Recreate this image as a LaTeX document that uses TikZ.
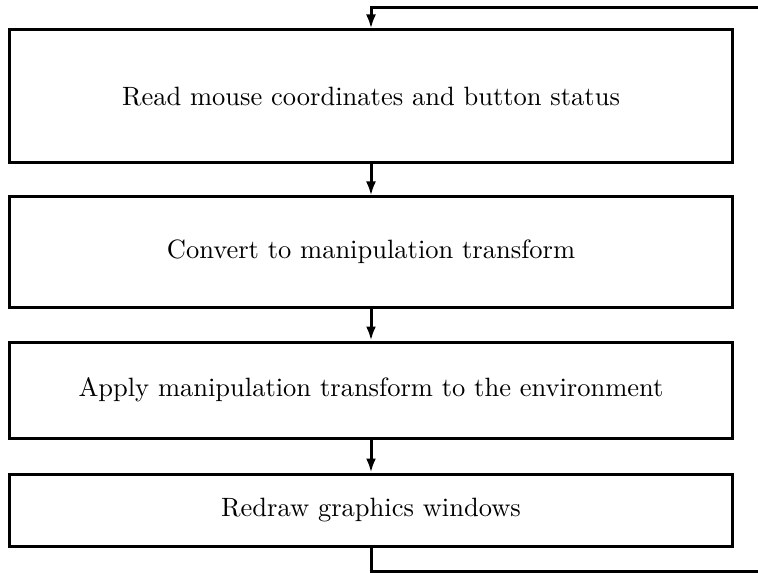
\documentclass[tikz,border=0pt]{standalone}
\usetikzlibrary{arrows.meta}
\begin{document}
\begin{tikzpicture}[x=0.4pt,y=-0.4pt,>={Latex[length=5.6pt,width=4pt]},
    stage/.style={draw,line width=1.2pt,minimum width=288.8pt,inner sep=0pt,
        font=\fontsize{10.6pt}{13pt}\selectfont},
    flow/.style={->,line width=1.2pt}]
    \path[use as bounding box,clip] (0,0) rectangle (758,572);
    \path
    % Processing stages
    (371,96.5) node[stage,minimum height=53.2pt] (read) {Read mouse coordinates and button status}
    (371,252)  node[stage,minimum height=44pt]   (convert) {Convert to manipulation transform}
    (371,390)  node[stage,minimum height=38.4pt] (apply) {Apply manipulation transform to the environment}
    (371,510)  node[stage,minimum height=28.8pt] (redraw) {Redraw graphics windows};

    % Loop corners (right side runs off the page)
    \coordinate (loopbottom) at (775,571.5);
    \coordinate (looptop) at (775,8);

    % Link the stages
    \draw[flow] (read)--(convert);
    \draw[flow] (convert)--(apply);
    \draw[flow] (apply)--(redraw);
    \draw[flow] (redraw.south) |- (loopbottom) -- (looptop) -| (read.north);
\end{tikzpicture}
\end{document}
